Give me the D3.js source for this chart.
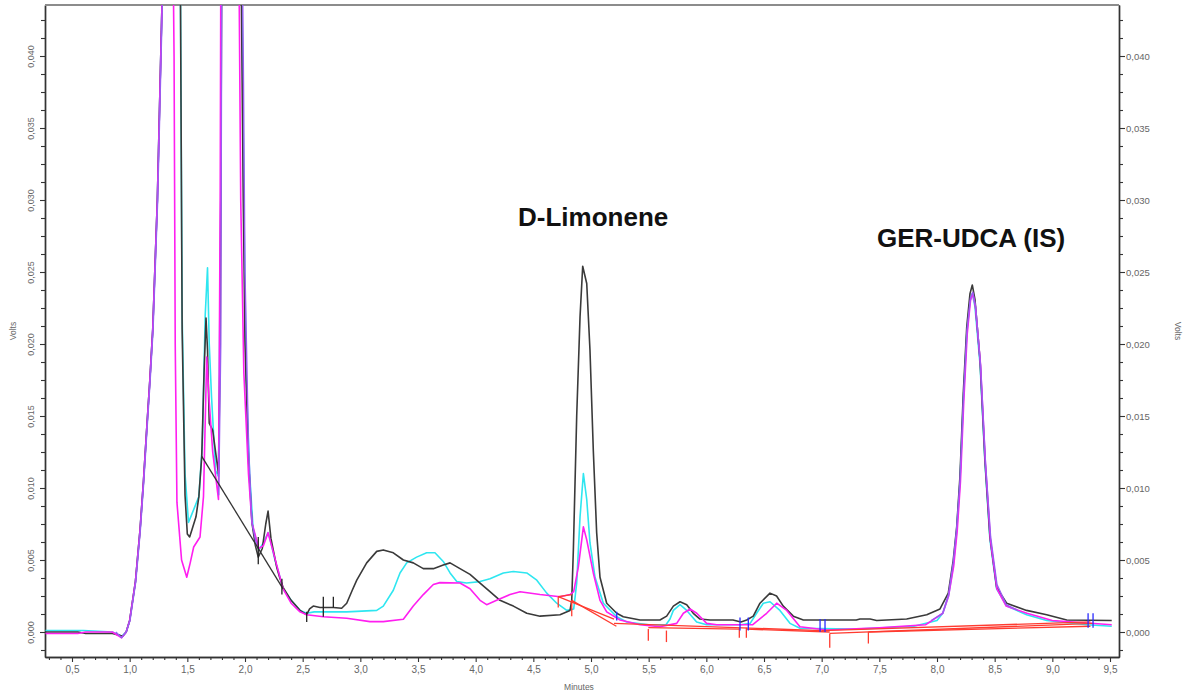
<!DOCTYPE html>
<html>
<head>
<meta charset="utf-8">
<script src="https://cdn.jsdelivr.net/npm/d3@7"></script>
<style>
  body { margin: 0; background: #fff; }
  svg { display: block; font-family: "Liberation Sans", Arial, sans-serif; }
</style>
</head>
<body>
<svg id="chart" width="1187" height="694"></svg>
<script>
// ---- Chromatogram traces: [minutes, volts] ----
const blackTrace = [
  [0.27,0.0000],[0.40,0.0000],[0.55,0.0000],[0.62,-0.0001],[0.85,-0.0001],[0.90,-0.0002],[0.94,-0.0003],[0.97,0.0000],
  [1.00,0.0008],[1.05,0.0035],[1.09,0.0071],[1.12,0.0105],[1.147,0.0140],[1.175,0.0175],[1.20,0.0210],[1.24,0.0300],[1.28,0.0435],
  [1.33,0.0750],[1.38,0.0850],[1.42,0.0700],[1.44,0.0450],[1.455,0.0210],[1.48,0.0095],[1.50,0.0068],[1.52,0.0066],[1.54,0.0071],
  [1.575,0.0080],[1.60,0.0094],[1.625,0.0122],[1.645,0.0180],[1.662,0.0218],[1.675,0.0196],[1.69,0.0145],[1.72,0.0140],[1.77,0.0110],
  [1.785,0.0200],[1.80,0.0500],[1.87,0.0950],[1.95,0.0600],[1.985,0.0300],[2.00,0.0200],[2.03,0.0120],[2.06,0.0076],[2.09,0.0060],
  [2.115,0.0052],[2.15,0.0058],[2.18,0.0075],[2.20,0.0084],[2.225,0.0065],[2.25,0.0055],[2.275,0.0045],[2.30,0.0038],[2.33,0.0031],
  [2.40,0.0022],[2.477,0.0015],[2.535,0.0012],[2.56,0.0016],[2.592,0.0018],[2.65,0.0017],[2.70,0.0017],[2.766,0.0017],[2.838,0.00165],
  [2.882,0.0020],[2.93,0.0029],[2.969,0.0036],[3.055,0.0048],[3.142,0.0056],[3.199,0.0057],[3.286,0.0055],[3.373,0.0050],[3.459,0.0048],
  [3.546,0.0044],[3.633,0.0044],[3.719,0.00465],[3.778,0.0048],[3.864,0.0044],[3.951,0.0040],[4.038,0.0034],[4.124,0.0028],[4.211,0.0022],
  [4.327,0.0018],[4.443,0.0013],[4.558,0.0011],[4.731,0.0012],[4.818,0.0015],[4.833,0.0022],[4.847,0.0057],[4.876,0.0150],[4.905,0.0219],
  [4.928,0.0254],[4.963,0.0242],[4.991,0.0196],[5.02,0.0126],[5.049,0.0069],[5.078,0.0038],[5.136,0.0020],[5.223,0.0013],[5.28,0.00106],
  [5.425,0.00083],[5.598,0.00083],[5.656,0.0011],[5.714,0.0018],[5.772,0.0021],[5.83,0.0019],[5.887,0.0013],[5.945,0.0009],[6.032,0.00083],
  [6.231,0.00083],[6.30,0.0007],[6.35,0.00083],[6.407,0.0011],[6.465,0.0020],[6.552,0.0027],[6.609,0.0025],[6.667,0.0018],[6.754,0.0011],
  [6.841,0.00083],[7.30,0.00083],[7.332,0.0009],[7.42,0.0009],[7.477,0.0008],[7.737,0.0009],[7.911,0.0012],[8.026,0.0016],[8.098,0.0027],
  [8.141,0.0050],[8.171,0.0073],[8.199,0.0108],[8.228,0.0166],[8.258,0.0212],[8.286,0.0235],[8.306,0.0241],[8.329,0.0231],[8.373,0.0189],
  [8.416,0.0119],[8.459,0.0066],[8.517,0.0031],[8.604,0.0020],[8.777,0.0015],[8.951,0.0012],[9.125,0.00083],[9.515,0.0008]
];

const cyanTrace = [
  [0.27,0.0001],[0.60,0.0001],[0.85,0.0000],[0.93,-0.0003],[0.97,0.0000],
  [1.00,0.0008],[1.05,0.0035],[1.09,0.0071],[1.12,0.0105],[1.147,0.0140],[1.175,0.0175],[1.20,0.0210],[1.24,0.0300],[1.28,0.0435],
  [1.33,0.0750],[1.38,0.0850],[1.42,0.0700],[1.44,0.0450],[1.455,0.0220],[1.48,0.0110],[1.51,0.0076],[1.54,0.0082],[1.58,0.0090],
  [1.60,0.0094],[1.63,0.0130],[1.655,0.0220],[1.675,0.0253],[1.69,0.0200],[1.71,0.0163],[1.745,0.0112],[1.77,0.0108],[1.79,0.0300],
  [1.80,0.0600],[1.88,0.1000],[1.95,0.0650],[1.99,0.0300],[2.01,0.0180],[2.04,0.0110],[2.07,0.0072],[2.12,0.0057],[2.16,0.0062],
  [2.20,0.0069],[2.225,0.0062],[2.26,0.0050],[2.30,0.0039],[2.33,0.0030],[2.40,0.0022],[2.477,0.0015],[2.535,0.0013],[2.60,0.0014],
  [2.75,0.0014],[2.882,0.0014],[3.142,0.0015],[3.199,0.0018],[3.286,0.0029],[3.344,0.0041],[3.402,0.0048],[3.488,0.0052],[3.575,0.0055],
  [3.647,0.0055],[3.719,0.0049],[3.778,0.0041],[3.836,0.0035],[3.922,0.0034],[4.038,0.0035],[4.124,0.0037],[4.24,0.0041],[4.327,0.0042],
  [4.443,0.0041],[4.53,0.0036],[4.616,0.0027],[4.703,0.0020],[4.79,0.0015],[4.85,0.0016],[4.876,0.0034],[4.905,0.0080],[4.934,0.0110],
  [4.963,0.0092],[4.991,0.0062],[5.035,0.0038],[5.107,0.0020],[5.223,0.00106],[5.31,0.0007],[5.50,0.0005],[5.65,0.0005],[5.685,0.0009],
  [5.714,0.0015],[5.772,0.0019],[5.83,0.0015],[5.916,0.0007],[6.003,0.0005],[6.30,0.0005],[6.38,0.0006],[6.436,0.0013],[6.494,0.0020],
  [6.552,0.0021],[6.638,0.0015],[6.725,0.0006],[6.812,0.00026],[7.30,0.0002],[7.80,0.0004],[8.00,0.0008],[8.05,0.0013],[8.10,0.0025],
  [8.141,0.0046],[8.171,0.0070],[8.199,0.0104],[8.228,0.0160],[8.258,0.0207],[8.286,0.0230],[8.306,0.0235],[8.329,0.0226],[8.373,0.0186],
  [8.416,0.0117],[8.459,0.0064],[8.517,0.0030],[8.604,0.0018],[8.777,0.0012],[8.951,0.0008],[9.30,0.0005],[9.515,0.0004]
];

const magentaTrace = [
  [0.27,-0.0001],[0.55,-0.0001],[0.62,0.0000],[0.85,0.0000],[0.93,-0.0004],[0.97,0.0000],
  [1.00,0.0008],[1.05,0.0035],[1.09,0.0071],[1.12,0.0105],[1.147,0.0140],[1.175,0.0175],[1.20,0.0210],[1.24,0.0300],[1.28,0.0435],
  [1.33,0.0750],[1.36,0.0600],[1.385,0.0400],[1.395,0.0200],[1.41,0.0090],[1.45,0.0050],[1.495,0.0038],[1.525,0.0048],[1.555,0.0059],
  [1.61,0.0066],[1.64,0.0094],[1.668,0.0191],[1.69,0.0160],[1.72,0.0125],[1.77,0.0092],[1.785,0.0300],[1.795,0.0600],[1.87,0.1000],
  [1.93,0.0650],[1.963,0.0300],[1.99,0.0180],[2.03,0.0110],[2.06,0.0076],[2.12,0.0058],[2.16,0.0060],[2.20,0.0069],[2.23,0.0060],
  [2.27,0.0048],[2.33,0.0030],[2.40,0.0020],[2.477,0.0014],[2.535,0.0012],[2.68,0.00106],[2.882,0.00095],[3.083,0.00072],[3.199,0.00072],
  [3.373,0.00088],[3.459,0.0018],[3.546,0.0026],[3.633,0.0033],[3.69,0.00343],[3.864,0.0034],[3.951,0.0030],[4.038,0.0022],[4.095,0.0019],
  [4.182,0.0022],[4.298,0.0026],[4.385,0.0028],[4.558,0.0026],[4.731,0.00245],[4.818,0.0026],[4.85,0.0028],[4.89,0.0045],[4.934,0.0073],
  [4.963,0.0064],[5.02,0.0041],[5.078,0.0022],[5.136,0.0014],[5.252,0.00083],[5.425,0.0005],[5.598,0.00037],[5.743,0.0006],[5.801,0.0013],
  [5.859,0.0016],[5.917,0.0013],[6.003,0.0006],[6.09,0.0005],[6.40,0.0005],[6.523,0.0013],[6.61,0.0020],[6.697,0.0015],[6.812,0.00037],
  [7.044,0.00014],[7.50,0.0003],[7.90,0.0005],[8.05,0.0013],[8.10,0.0025],[8.145,0.0046],[8.175,0.0070],[8.203,0.0104],[8.232,0.0160],
  [8.262,0.0207],[8.29,0.0230],[8.31,0.0235],[8.333,0.0226],[8.377,0.0186],[8.42,0.0117],[8.463,0.0064],[8.52,0.0030],[8.60,0.0018],
  [8.78,0.0013],[9.00,0.0008],[9.515,0.0005]
];

// Blue-violet run, visible only where it separates from the magenta one
const violetRise = [
  [0.88,0.0000],[0.93,-0.0004],[0.97,0.0000],[1.003,0.0008],[1.053,0.0035],[1.093,0.0071],[1.123,0.0105],[1.15,0.0140],
  [1.178,0.0175],[1.203,0.0210],[1.243,0.0300],[1.283,0.0435],[1.32,0.0700]
];
const violetPeak = [
  [1.772,0.0095],[1.79,0.0200],[1.80,0.0500],[1.88,0.1000],[1.96,0.0600],[1.985,0.0400],[2.00,0.0250],[2.03,0.0130],[2.06,0.0076],[2.10,0.0060]
];
const violetIS = [
  [7.95,0.0008],[8.05,0.0013],[8.10,0.0026],[8.14,0.0048],[8.17,0.0072],[8.20,0.0106],[8.23,0.0164],[8.26,0.0210],[8.29,0.0232],
  [8.31,0.0236],[8.335,0.0226],[8.378,0.0185],[8.42,0.0118],[8.465,0.0066],[8.52,0.0033],[8.60,0.0019],[8.70,0.0015]
];

// Integration baselines and event markers
const blackBaseline = [[1.625,0.0122],[2.33,0.0030]];
const redBaselines = [
  [[4.716,0.00245],[4.833,0.0026]],
  [[4.716,0.00245],[5.20,0.0009]],
  [[4.833,0.0022],[5.22,0.0004]],
  [[5.20,0.0006],[7.00,0.0001]],
  [[5.497,0.0003],[6.286,0.0002]],
  [[6.347,0.0002],[7.07,0.0000]],
  [[7.07,-0.0001],[9.35,0.0006]],
  [[7.405,0.0000],[9.33,0.0004]],
  [[7.00,0.0001],[9.33,0.0007]]
];
// [minutes, top volts, bottom volts]
const redMarks = [
  [4.716,0.00245,0.0017],[4.833,0.0022,0.0011],[5.497,0.0002,-0.0006],[5.654,0.0001,-0.0007],
  [6.286,0.0003,-0.0004],[6.347,0.0003,-0.0004],[7.07,-0.0001,-0.0011],[7.405,0.0000,-0.0008]
];
const blueMarks = [
  [5.223,0.0014,0.0008],[6.292,0.0010,0.0001],[6.364,0.0010,0.0001],[6.986,0.0009,0.0000],[7.029,0.0009,0.0000],
  [9.31,0.0013,0.0003],[9.353,0.0013,0.0003]
];
const blackMarks = [
  [2.115,0.0066,0.0047],[2.32,0.0037,0.0026],[2.535,0.0014,0.0007],[2.679,0.00245,0.00106],[2.766,0.00245,0.0017]
];

// Axis ticks
const xMajorTicks = [0.5,1.0,1.5,2.0,2.5,3.0,3.5,4.0,4.5,5.0,5.5,6.0,6.5,7.0,7.5,8.0,8.5,9.0,9.5];
const yMajorTicks = [0.000,0.005,0.010,0.015,0.020,0.025,0.030,0.035,0.040];

const peakLabels = [
  { text: "D-Limonene", px: 518, py: 226 },
  { text: "GER-UDCA (IS)", px: 877, py: 247 }
];

// ---- Layout ----
const plot = { left: 45, right: 1119, top: 5, bottom: 657 };
const x = d3.scaleLinear().domain([0.2659, 9.578]).range([plot.left, plot.right]);
const y = d3.scaleLinear().domain([-0.001736, 0.043542]).range([plot.bottom, plot.top]);

const svg = d3.select("#chart");
const comma = s => s.replace(".", ",");
const fmtY = v => comma(d3.format(".3f")(v));
const fmtX = v => comma(d3.format(".1f")(v));
const axisColor = "#333";
const labelColor = "#666";

svg.append("defs").append("clipPath").attr("id", "plotClip")
  .append("rect")
  .attr("x", plot.left).attr("y", plot.top)
  .attr("width", plot.right - plot.left).attr("height", plot.bottom - plot.top);

// minor tick values
const xMinor = d3.range(3, 96).map(i => i / 10).filter(v => !xMajorTicks.some(m => Math.abs(m - v) < 1e-6));
const yMinor = d3.range(-1, 35).map(i => i * 0.00125).filter(v => !yMajorTicks.some(m => Math.abs(m - v) < 1e-7));

function styleAxis(g) {
  g.select(".domain").attr("stroke", axisColor).attr("stroke-width", 1.4);
  g.selectAll(".tick line").attr("stroke", axisColor).attr("stroke-width", 1.1);
  g.selectAll(".tick text").attr("fill", labelColor).attr("font-size", 10)
    .attr("font-family", "'Liberation Sans', Arial, sans-serif");
}

// bottom axis
const gx = svg.append("g").attr("transform", `translate(0,${plot.bottom})`)
  .call(d3.axisBottom(x).tickValues(xMajorTicks).tickFormat(fmtX).tickSize(5).tickSizeOuter(0));
styleAxis(gx);
gx.selectAll(".tick text").attr("y", 9);
const gxm = svg.append("g").attr("transform", `translate(0,${plot.bottom})`)
  .call(d3.axisBottom(x).tickValues(xMinor).tickFormat("").tickSize(3).tickSizeOuter(0));
styleAxis(gxm);

// left axis
const gy = svg.append("g").attr("transform", `translate(${plot.left},0)`)
  .call(d3.axisLeft(y).tickValues(yMajorTicks).tickFormat(fmtY).tickSize(5).tickSizeOuter(0));
styleAxis(gy);
gy.selectAll(".tick text")
  .attr("transform", "rotate(-90)")
  .attr("text-anchor", "middle")
  .attr("x", 0).attr("y", -11).attr("dy", 0)
  .attr("font-size", 9);
const gym = svg.append("g").attr("transform", `translate(${plot.left},0)`)
  .call(d3.axisLeft(y).tickValues(yMinor).tickFormat("").tickSize(4).tickSizeOuter(0));
styleAxis(gym);

// right axis
const gr = svg.append("g").attr("transform", `translate(${plot.right},0)`)
  .call(d3.axisRight(y).tickValues(yMajorTicks).tickFormat(fmtY).tickSize(6).tickSizeOuter(0));
styleAxis(gr);
gr.selectAll(".tick text").attr("x", 7).attr("font-size", 9.5);
const grm = svg.append("g").attr("transform", `translate(${plot.right},0)`)
  .call(d3.axisRight(y).tickValues(yMinor).tickFormat("").tickSize(4).tickSizeOuter(0));
styleAxis(grm);

// top frame line
svg.append("line")
  .attr("x1", plot.left).attr("x2", plot.right)
  .attr("y1", plot.top).attr("y2", plot.top)
  .attr("stroke", "#8c8c8c").attr("stroke-width", 2);

// axis titles
svg.append("text").text("Volts")
  .attr("transform", `translate(16,${(plot.top + plot.bottom) / 2}) rotate(-90)`)
  .attr("text-anchor", "middle").attr("font-size", 8.5).attr("fill", labelColor);
svg.append("text").text("Volts")
  .attr("transform", `translate(1175,${(plot.top + plot.bottom) / 2}) rotate(90)`)
  .attr("text-anchor", "middle").attr("font-size", 8.5).attr("fill", labelColor);
svg.append("text").text("Minutes")
  .attr("x", x(5.0) - 12).attr("y", 690)
  .attr("text-anchor", "middle").attr("font-size", 8.5).attr("fill", labelColor);

// ---- Traces ----
const line = d3.line().x(d => x(d[0])).y(d => y(d[1]));
const traces = svg.append("g").attr("clip-path", "url(#plotClip)");

function drawTrace(data, color, width) {
  traces.append("path").datum(data)
    .attr("d", line)
    .attr("fill", "none")
    .attr("stroke", color)
    .attr("stroke-width", width)
    .attr("stroke-linejoin", "round");
}

drawTrace(cyanTrace, "#2ee6f0", 1.6);
drawTrace(blackTrace, "#3a3a3a", 1.6);
drawTrace(magentaTrace, "#ff1ef0", 1.6);
drawTrace(violetRise, "#9a5cf2", 1.4);
drawTrace(violetPeak, "#9a5cf2", 1.4);
drawTrace(violetIS, "#9a5cf2", 1.4);

// integration baselines
traces.append("path").datum(blackBaseline)
  .attr("d", line).attr("fill", "none")
  .attr("stroke", "#333").attr("stroke-width", 1.3);

traces.selectAll(".redBase").data(redBaselines).join("path")
  .attr("class", "redBase")
  .attr("d", line).attr("fill", "none")
  .attr("stroke", "#ff3b30").attr("stroke-width", 1.3);

function drawMarks(data, color) {
  traces.selectAll(null).data(data).join("line")
    .attr("x1", d => x(d[0])).attr("x2", d => x(d[0]))
    .attr("y1", d => y(d[1])).attr("y2", d => y(d[2]))
    .attr("stroke", color).attr("stroke-width", 1.3);
}
drawMarks(redMarks, "#ff3b30");
drawMarks(blueMarks, "#2a2aff");
drawMarks(blackMarks, "#222");

// ---- Peak labels ----
svg.selectAll(".peakLabel").data(peakLabels).join("text")
  .attr("class", "peakLabel")
  .attr("x", d => d.px).attr("y", d => d.py)
  .attr("font-size", 26).attr("font-weight", "bold")
  .attr("fill", "#111")
  .text(d => d.text);
</script>
</body>
</html>
